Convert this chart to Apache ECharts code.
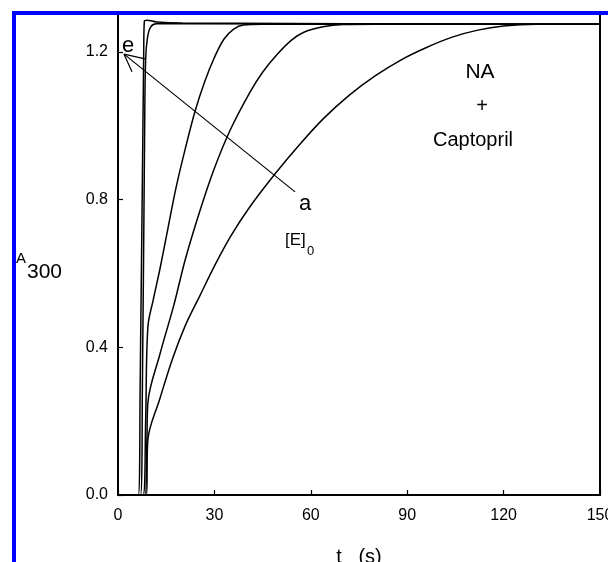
<!DOCTYPE html>
<html>
<head>
<meta charset="utf-8">
<script src="https://cdn.jsdelivr.net/npm/echarts@6/dist/echarts.min.js"></script>
<style>
  html, body { margin: 0; padding: 0; background: #fff; }
  #chart { width: 608px; height: 562px; }
</style>
</head>
<body>
<div id="chart"></div>
<script>
// Absorbance at 300 nm versus time, NA + Captopril, traces a..e ([E]0 increasing a -> e)
const xTicks = [0, 30, 60, 90, 120, 150];
const yTicks = [0.0, 0.4, 0.8, 1.2];

const traceA = [[0,0],[8.8,0],[9.3,0.15],[13,0.26],[17,0.37],[21,0.46],[25.5,0.54],[30,0.62],[35,0.70],[41,0.78],[48.9,0.87],[56.6,0.95],[64,1.02],[72,1.083],[80,1.135],[88,1.178],[96,1.212],[104,1.24],[112,1.259],[120,1.27],[130,1.275],[150,1.275]];
const traceB = [[0,0],[8.4,0],[9.0,0.15],[9.3,0.25],[13,0.38],[17.4,0.515],[21,0.64],[25.5,0.77],[30,0.885],[35,0.99],[41,1.09],[45,1.145],[49.5,1.193],[54,1.232],[58,1.254],[63.8,1.268],[70,1.274],[80,1.275],[150,1.275]];
const traceC = [[0,0],[7.8,0],[8.6,0.2],[9.3,0.455],[11,0.53],[13,0.61],[15.5,0.72],[18,0.83],[21,0.94],[24,1.04],[27,1.12],[30,1.185],[33,1.235],[36,1.262],[39,1.273],[45,1.275],[150,1.275]];
const traceD = [[0,0],[7.0,0],[7.6,0.3],[8.3,1.0],[8.6,1.18],[9.2,1.24],[10.2,1.268],[12,1.276],[20,1.276],[150,1.275]];
const traceE = [[0,0],[6.3,0],[6.9,0.3],[8.0,1.2],[8.2,1.283],[9,1.286],[12,1.281],[20,1.278],[150,1.275]];

// arrow from label "a" towards label "e" (data units)
const arrowShaft = [[55.1,0.821],[1.87,1.194]];
const arrowHead = [[4.36,1.146],[1.87,1.194],[8.4,1.181]];

const FONT = 'Liberation Sans';

function trace(name, data) {
  return {
    name: name, type: 'line', data: data, showSymbol: false,
    smooth: 0.35,
    lineStyle: { color: '#000', width: 1.5 }, silent: true, animation: false, z: 3
  };
}
function pen(data) {
  return {
    type: 'line', data: data, showSymbol: false,
    lineStyle: { color: '#000', width: 1.2 }, silent: true, animation: false, z: 4
  };
}

const chart = echarts.init(document.getElementById('chart'), null, { renderer: 'canvas' });
chart.setOption({
  backgroundColor: '#fff',
  animation: false,
  grid: { left: 118, right: 8, top: 15, bottom: 67, containLabel: false, outerBoundsMode: 'none' },
  xAxis: {
    type: 'value', min: xTicks[0], max: xTicks[xTicks.length - 1], interval: 30,
    name: 't   (s)', nameLocation: 'middle', nameGap: 52,
    nameTextStyle: { fontFamily: FONT, fontSize: 20, color: '#000' },
    axisLine: { show: true, onZero: false, lineStyle: { color: '#000', width: 2 } },
    axisTick: { show: true, inside: true, length: 5, lineStyle: { color: '#000', width: 1.2 } },
    axisLabel: { fontFamily: FONT, fontSize: 16, color: '#000', margin: 13 },
    splitLine: { show: false }
  },
  yAxis: [{
    type: 'value', min: 0, max: 1.3, interval: 0.4,
    axisLine: { show: true, lineStyle: { color: '#000', width: 2 } },
    axisTick: { show: true, inside: true, length: 5, lineStyle: { color: '#000', width: 1.2 } },
    axisLabel: { fontFamily: FONT, fontSize: 16, color: '#000', margin: 10, showMaxLabel: false,
      formatter: v => v.toFixed(1) },
    splitLine: { show: false }
  }, {
    type: 'value', min: 0, max: 1.3, position: 'right',
    axisLine: { show: true, lineStyle: { color: '#000', width: 2 } },
    axisTick: { show: false }, axisLabel: { show: false }, splitLine: { show: false }
  }],
  series: [
    trace('a', traceA), trace('b', traceB), trace('c', traceC),
    trace('d', traceD), trace('e', traceE),
    pen(arrowShaft), pen(arrowHead)
  ],
  graphic: [
    { type: 'text', x: 122, y: 46, z: 10,
      style: { text: 'e', font: '22px ' + FONT, fill: '#000', textAlign: 'left', textVerticalAlign: 'middle' } },
    { type: 'text', x: 299, y: 204, z: 10,
      style: { text: 'a', font: '22px ' + FONT, fill: '#000', textAlign: 'left', textVerticalAlign: 'middle' } },
    { type: 'text', x: 285, y: 240, z: 10,
      style: { text: '[E]', font: '17px ' + FONT, fill: '#000', textAlign: 'left', textVerticalAlign: 'middle' } },
    { type: 'text', x: 307, y: 251, z: 10,
      style: { text: '0', font: '13px ' + FONT, fill: '#000', textAlign: 'left', textVerticalAlign: 'middle' } },
    { type: 'text', x: 480, y: 72, z: 10,
      style: { text: 'NA', font: '21px ' + FONT, fill: '#000', textAlign: 'center', textVerticalAlign: 'middle' } },
    { type: 'text', x: 482, y: 106, z: 10,
      style: { text: '+', font: '20px ' + FONT, fill: '#000', textAlign: 'center', textVerticalAlign: 'middle' } },
    { type: 'text', x: 473, y: 140, z: 10,
      style: { text: 'Captopril', font: '20px ' + FONT, fill: '#000', textAlign: 'center', textVerticalAlign: 'middle' } },
    { type: 'text', x: 16, y: 259, z: 10,
      style: { text: 'A', font: '15px ' + FONT, fill: '#000', textAlign: 'left', textVerticalAlign: 'middle' } },
    { type: 'text', x: 27, y: 272, z: 10,
      style: { text: '300', font: '21px ' + FONT, fill: '#000', textAlign: 'left', textVerticalAlign: 'middle' } },
    // blue frame edges
    { type: 'rect', z: 20, shape: { x: 12, y: 11, width: 4, height: 551 }, style: { fill: '#0000ff' } },
    { type: 'rect', z: 20, shape: { x: 12, y: 11, width: 596, height: 4 }, style: { fill: '#0000ff' } }
  ]
});
</script>
</body>
</html>
